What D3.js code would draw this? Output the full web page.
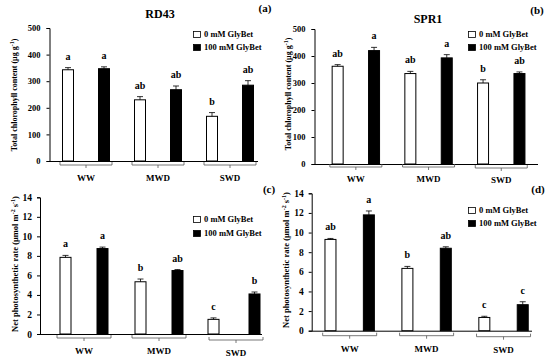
<!DOCTYPE html>
<html><head><meta charset="utf-8">
<script src="https://cdn.jsdelivr.net/npm/d3@7"></script>
<style>body{margin:0;background:#fff}svg{display:block}text{font-family:"Liberation Serif","Times New Roman",serif;font-weight:bold;fill:#000}</style>
</head><body>
<svg id="c" width="550" height="358"></svg>
<script>
const categories = ["WW", "MWD", "SWD"];
const seriesNames = ["0 mM GlyBet", "100 mM GlyBet"];
// Panel (a) RD43 chlorophyll
const aCtrl = [343, 230, 168], aCtrlErr = [8, 12, 14];
const aGly = [347, 268, 285], aGlyErr = [7, 14, 17];
const aCtrlLetters = ["a", "ab", "b"], aGlyLetters = ["a", "ab", "ab"];
// Panel (b) SPR1 chlorophyll
const bCtrl = [362, 335, 300], bCtrlErr = [6, 8, 12];
const bGly = [420, 393, 335], bGlyErr = [12, 12, 6];
const bCtrlLetters = ["ab", "ab", "b"], bGlyLetters = ["a", "a", "ab"];
// Panel (c) RD43 photosynthesis
const cCtrl = [7.85, 5.35, 1.5], cCtrlErr = [0.2, 0.28, 0.15];
const cGly = [8.75, 6.5, 4.1], cGlyErr = [0.15, 0.1, 0.2];
const cCtrlLetters = ["a", "b", "c"], cGlyLetters = ["a", "ab", "b"];
// Panel (d) SPR1 photosynthesis
const dCtrl = [9.3, 6.35, 1.35], dCtrlErr = [0.1, 0.2, 0.12];
const dGly = [11.8, 8.4, 2.65], dGlyErr = [0.4, 0.15, 0.3];
const dCtrlLetters = ["ab", "b", "c"], dGlyLetters = ["a", "ab", "c"];
const chlTicks = [0, 100, 200, 300, 400, 500];
const pnTicks = [0, 2, 4, 6, 8, 10, 12, 14];

const svg = d3.select("#c");

function panel(cfg) {
  const g = svg.append("g");
  const y = d3.scaleLinear().domain([0, cfg.ymax]).range([cfg.y0, cfg.yTop]);
  const x = d3.scaleBand().domain(categories).range([cfg.bandL, cfg.bandR]);
  const gc = c => x(c) + x.bandwidth() / 2;
  // y axis
  const ya = g.append("g").attr("transform", `translate(${cfg.ax},0)`)
    .call(d3.axisLeft(y).tickValues(cfg.ticks).tickSize(3).tickPadding(cfg.tickPad));
  ya.select(".domain").attr("stroke", "#000").attr("stroke-width", 1);
  ya.selectAll("line").attr("stroke", "#000");
  ya.selectAll("text").style("font-size", cfg.tickFont + "px").style("font-family", "Liberation Serif").style("font-weight", "bold");
  // x axis line
  g.append("line").attr("x1", cfg.ax).attr("x2", cfg.axEnd).attr("y1", cfg.y0 + 0.5).attr("y2", cfg.y0 + 0.5).attr("stroke", "#000");
  // bars
  const bw = 12;
  const series = [
    {vals: cfg.ctrl, err: cfg.ctrlErr, letters: cfg.ctrlL, fill: "#fff", off: -cfg.off},
    {vals: cfg.gly, err: cfg.glyErr, letters: cfg.glyL, fill: "#000", off: cfg.off}
  ];
  series.forEach(s => {
    categories.forEach((c, i) => {
      const cx = gc(c) + s.off + (cfg.extra ? cfg.extra[i] * (s.off > 0 ? 1 : -1) : 0);
      const v = s.vals[i], e = s.err[i];
      g.append("rect").attr("x", cx - bw / 2 + 0.5).attr("y", y(v)).attr("width", bw - 1).attr("height", cfg.y0 - y(v))
        .attr("fill", s.fill).attr("stroke", "#000").attr("stroke-width", 1);
      g.append("line").attr("x1", cx).attr("x2", cx).attr("y1", y(v + e)).attr("y2", y(v)).attr("stroke", "#000").attr("stroke-width", 0.8);
      g.append("line").attr("x1", cx - 3).attr("x2", cx + 3).attr("y1", y(v + e)).attr("y2", y(v + e)).attr("stroke", "#000").attr("stroke-width", 0.8);
      g.append("text").attr("x", cx).attr("y", y(v + e) - 8).attr("text-anchor", "middle").style("font-size", "10px").text(s.letters[i]);
    });
  });
  // brackets + category labels
  categories.forEach((c, i) => {
    const cx = gc(c) + (cfg.bracketShift ? cfg.bracketShift[i] : 0);
    const by = cfg.y0 + cfg.bY + (i === 2 ? cfg.bY2 : 0);
    const hw = cfg.bHalf;
    g.append("path").attr("d", `M${cx - hw},${by - 3}L${cx - hw},${by}L${cx + hw},${by}L${cx + hw},${by - 3}M${cx},${by}L${cx},${by + 3}`)
      .attr("fill", "none").attr("stroke", "#555").attr("stroke-width", 0.8);
    g.append("text").attr("x", cx).attr("y", by + cfg.labY).attr("text-anchor", "middle").style("font-size", "9px").text(c);
  });
  // title & panel letter
  if (cfg.title) g.append("text").attr("x", cfg.titleX).attr("y", cfg.titleY).attr("text-anchor", "middle").style("font-size", "12px").text(cfg.title);
  g.append("text").attr("x", cfg.tagX).attr("y", cfg.tagY).attr("text-anchor", "middle").style("font-size", "11px").text(cfg.tag);
  // y title
  const yt = g.append("text").attr("transform", `translate(${cfg.ytX},${cfg.ytY}) rotate(-90)`).attr("text-anchor", "middle").style("font-size", cfg.ytFont + "px");
  cfg.ytParts.forEach(p => {
    const t = yt.append("tspan").text(p.t);
    if (p.sup) t.attr("baseline-shift", "super").style("font-size", "6px");
  });
  // legend
  const lg = g.append("g").attr("transform", `translate(${cfg.legX},${cfg.legY})`);
  seriesNames.forEach((n, i) => {
    lg.append("rect").attr("x", 0.5).attr("y", i * cfg.legDy - 6 + 0.5).attr("width", 7).attr("height", 6)
      .attr("fill", i === 0 ? "#fff" : "#000").attr("stroke", "#000").attr("stroke-width", 0.8);
    lg.append("text").attr("x", 11).attr("y", i * cfg.legDy).style("font-size", "8.5px").text(n);
  });
}

const chlTitle = [{t: "Total chlorophyll  content (μg g"}, {t: "-1", sup: true}, {t: ")"}];
const pnTitle = [{t: "Net photosynthetic rate (μmol m"}, {t: "-2", sup: true}, {t: " s"}, {t: "-1", sup: true}, {t: ")"}];

panel({ymax: 500, y0: 161, yTop: 28, ax: 49.5, axEnd: 258, bandL: 50, bandR: 266, off: 18, ticks: chlTicks, tickFont: 8.5, tickPad: 6,
  ctrl: aCtrl, ctrlErr: aCtrlErr, gly: aGly, glyErr: aGlyErr, ctrlL: aCtrlLetters, glyL: aGlyLetters,
  bY: 4, bY2: 0, bHalf: 26, labY: 16, title: "RD43", titleX: 160, titleY: 18, tag: "(a)", tagX: 265, tagY: 12,
  ytX: 17, ytY: 95, ytFont: 8, ytParts: chlTitle, legX: 193, legY: 37, legDy: 13});
panel({ymax: 500, y0: 164, yTop: 29, ax: 314.5, axEnd: 538, bandL: 319.5, bandR: 537.6, off: 18.2, ticks: chlTicks, tickFont: 8.5, tickPad: 6,
  ctrl: bCtrl, ctrlErr: bCtrlErr, gly: bGly, glyErr: bGlyErr, ctrlL: bCtrlLetters, glyL: bGlyLetters,
  bY: 3, bY2: 1, bHalf: 26, labY: 15, title: "SPR1", titleX: 428, titleY: 23, tag: "(b)", tagX: 537, tagY: 14,
  ytX: 291, ytY: 94, ytFont: 8, ytParts: chlTitle, legX: 468, legY: 37, legDy: 13});
panel({ymax: 14, y0: 334, yTop: 197.3, ax: 40, axEnd: 262, bandL: 46.5, bandR: 271.5, off: 18.5, ticks: pnTicks, tickFont: 9.5, tickPad: 5,
  extra: [0, 0, 2], bracketShift: [0, 0, 2],
  ctrl: cCtrl, ctrlErr: cCtrlErr, gly: cGly, glyErr: cGlyErr, ctrlL: cCtrlLetters, glyL: cGlyLetters,
  bY: 4, bY2: 2, bHalf: 27, labY: 16, title: null, tag: "(c)", tagX: 269, tagY: 193,
  ytX: 18, ytY: 264, ytFont: 8.5, ytParts: pnTitle, legX: 193, legY: 222, legDy: 14});
panel({ymax: 14, y0: 330.7, yTop: 193.3, ax: 311.7, axEnd: 532, bandL: 311.2, bandR: 542, off: 19.2, ticks: pnTicks, tickFont: 9.5, tickPad: 5,
  ctrl: dCtrl, ctrlErr: dCtrlErr, gly: dGly, glyErr: dGlyErr, ctrlL: dCtrlLetters, glyL: dGlyLetters,
  bY: 5, bY2: 1, bHalf: 27, labY: 16, title: null, tag: "(d)", tagX: 538, tagY: 193,
  ytX: 289, ytY: 260, ytFont: 8.5, ytParts: pnTitle, legX: 468, legY: 213, legDy: 13});
</script>
</body></html>
